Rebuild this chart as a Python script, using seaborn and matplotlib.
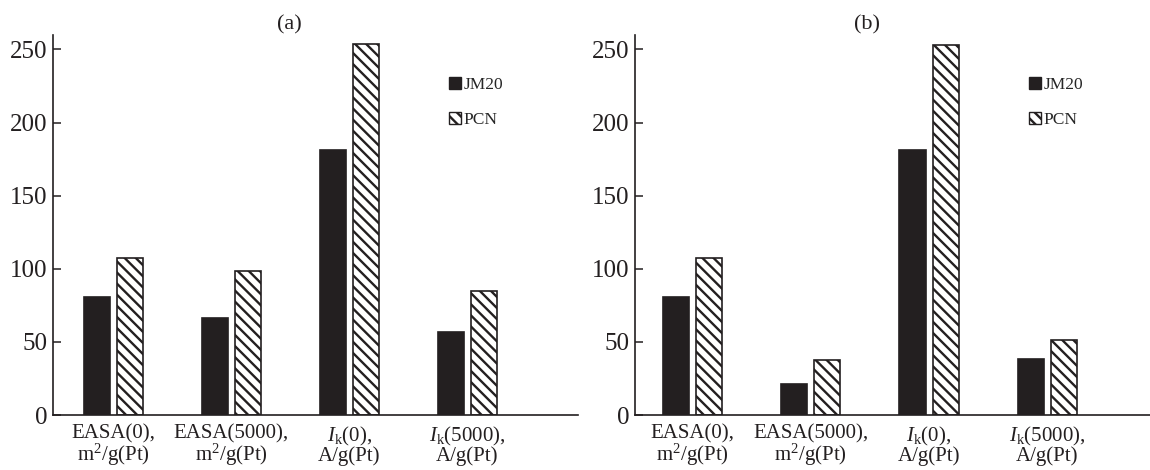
import pandas as pd
import seaborn as sns
import matplotlib.pyplot as plt
from matplotlib.patches import Patch

# Data
categories = ["EASA(0),\nm$^2$/g(Pt)", "EASA(5000),\nm$^2$/g(Pt)",
              "$I_\\mathrm{k}$(0),\nA/g(Pt)", "$I_\\mathrm{k}$(5000),\nA/g(Pt)"]
samples = ["JM20", "PCN"]
jm20_a = [81, 66, 181, 57]
pcn_a = [107.5, 98.5, 254, 85]
jm20_b = [81, 21.5, 181, 38.5]
pcn_b = [107.5, 37.5, 253, 51.5]
panel_titles = ["(a)", "(b)"]
yticks = [0, 50, 100, 150, 200, 250]

sns.set_style("ticks")
plt.rcParams["font.family"] = ["Liberation Serif", "DejaVu Serif"]
plt.rcParams["mathtext.fontset"] = "custom"
plt.rcParams["mathtext.rm"] = "Liberation Serif"
plt.rcParams["mathtext.it"] = "Liberation Serif:italic"
plt.rcParams["hatch.linewidth"] = 1.7
plt.rcParams["hatch.color"] = "#231f20"

dark = "#231f20"

fig = plt.figure(figsize=(11.5, 4.7), dpi=100)
ax_a = fig.add_axes([0.046, 0.117, 0.457, 0.809])
ax_b = fig.add_axes([0.552, 0.117, 0.448, 0.809])

panels = [(ax_a, jm20_a, pcn_a, (-0.51, 3.94), (0.886, 0.93)),
          (ax_b, jm20_b, pcn_b, (-0.49, 3.87), (0.90, 0.93))]

for i, (ax, jm, pcn, xl, leg_pos) in enumerate(panels):
    df = pd.DataFrame({
        "cat": categories * 2,
        "val": jm + pcn,
        "sample": ["JM20"] * 4 + ["PCN"] * 4,
    })
    sns.barplot(data=df, x="cat", y="val", hue="sample", order=categories,
                hue_order=samples, palette=[dark, "white"], width=0.56, gap=0.21,
                edgecolor=dark, linewidth=1.2, saturation=1, legend=False, ax=ax)
    # hatch the PCN bars
    for bar in ax.patches[4:8]:
        bar.set_hatch("\\\\\\")
    ax.set_xlim(*xl)
    ax.set_ylim(0, 260)
    ax.set_yticks(yticks)
    ax.set_xlabel("")
    ax.set_ylabel("")
    sns.despine(ax=ax)
    for s in ["left", "bottom"]:
        ax.spines[s].set_linewidth(1.2)
        ax.spines[s].set_color(dark)
    ax.tick_params(axis="y", direction="in", length=6, width=1.1, labelsize=18,
                   colors=dark, pad=4)
    ax.tick_params(axis="x", length=0, labelsize=15, colors=dark, pad=7)
    for lab in ax.get_xticklabels():
        lab.set_linespacing(0.88)
    ax.set_title(panel_titles[i], x=0.45, fontsize=16, pad=3, color=dark)
    handles = [Patch(facecolor=dark, edgecolor=dark),
               Patch(facecolor="white", edgecolor=dark, hatch="\\\\\\")]
    ax.legend(handles, samples, loc="upper right", bbox_to_anchor=leg_pos,
              frameon=False, fontsize=12.5, handlelength=0.65, handleheight=0.65,
              handletextpad=0.15, labelspacing=1.1)

fig.savefig("out.png", dpi=100)
